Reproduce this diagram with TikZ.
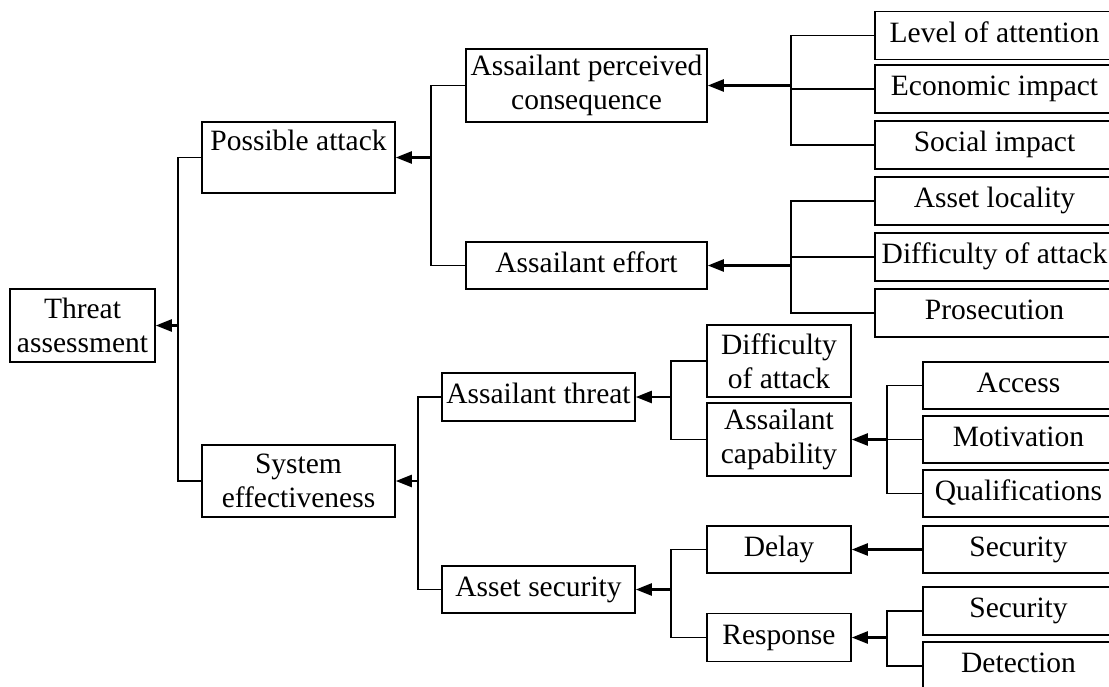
\documentclass[tikz,border=0pt]{standalone}
\usepackage{fontspec}
\setmainfont{Liberation Serif}
\usetikzlibrary{arrows.meta}
\tikzset{
  box/.style={draw, line width=1.6pt, inner sep=0pt, font=\fontsize{29.5}{34}\selectfont, align=center, minimum height=48pt},
  one/.style={text height=20pt, text depth=7pt},
  branch/.style={line width=1.5pt},
  arr/.style={line width=2.4pt, -{Triangle[length=16pt,width=12pt]}},
}
\begin{document}
\begin{tikzpicture}[x=1pt,y=-1pt]
\useasboundingbox (0,0) rectangle (1109,686);
\clip (0,0) rectangle (1109,686);
% level 0-2
\node[box, minimum width=145pt, minimum height=73pt] (TA) at (82.5,325.5) {Threat\\assessment};
\node[box, minimum width=193pt, minimum height=71pt] (PA) at (298.5,157.5) {Possible attack\\~};
\node[box, minimum width=193pt, minimum height=72pt] (SE) at (298.5,481) {System\\effectiveness};
\node[box, minimum width=241pt, minimum height=73pt] (APC) at (586.5,85.5) {Assailant perceived\\consequence};
\node[box, one, minimum width=241pt, minimum height=47pt] (AE) at (586.5,265.5) {Assailant effort};
\node[box, one, minimum width=193pt] (AT) at (538.5,397) {Assailant threat};
\node[box, one, minimum width=193pt, minimum height=47pt] (AS) at (538.5,589.5) {Asset security};
\node[box, minimum width=144pt, minimum height=72pt] (DA2) at (779,361) {Difficulty\\of attack};
\node[box, minimum width=144pt, minimum height=73pt] (AC) at (779,439.5) {Assailant\\capability};
\node[box, one, minimum width=144pt, minimum height=47pt] (DL) at (779,549.5) {Delay};
\node[box, one, minimum width=144pt] (RS) at (779,637.5) {Response};
% right column 1
\node[box, one, minimum width=239pt] (LA) at (994.5,35.5) {Level of attention};
\node[box, one, minimum width=239pt] (EI) at (994.5,89) {Economic impact};
\node[box, one, minimum width=239pt] (SI) at (994.5,145) {Social impact};
\node[box, one, minimum width=239pt] (AL) at (994.5,201) {Asset locality};
\node[box, one, minimum width=239pt] (DA) at (994.5,257) {Difficulty of attack};
\node[box, one, minimum width=239pt] (PR) at (994.5,313) {Prosecution};
% right column 2
\node[box, one, minimum width=191pt, minimum height=47pt] (AX) at (1018.5,385.5) {Access};
\node[box, one, minimum width=191pt, minimum height=47pt] (MO) at (1018.5,439.5) {Motivation};
\node[box, one, minimum width=191pt, minimum height=47pt] (QU) at (1018.5,493.5) {Qualifications};
\node[box, one, minimum width=191pt, minimum height=47pt] (SC1) at (1018.5,549.5) {Security};
\node[box, one, minimum width=191pt] (SC2) at (1018.5,611) {Security};
\node[box, one, minimum width=191pt] (DT) at (1018.5,666) {Detection};
% junctions
\coordinate (j0) at (178,325.5);
\coordinate (j1) at (431,157.5);
\coordinate (j2) at (418,481);
\coordinate (j3) at (791,85.5);
\coordinate (j4) at (791,265.5);
\coordinate (j5) at (671,397);
\coordinate (j6) at (887,439.5);
\coordinate (j7) at (671,589.5);
\coordinate (j8) at (887,637.5);
% connectors
\draw[branch] (PA.west) -| (j0) |- (SE.west);
\draw[arr] (j0) -- (TA.east);
\draw[branch] (APC.west) -| (j1) |- (AE.west);
\draw[arr] (j1) -- (PA.east);
\draw[branch] (AT.west) -| (j2) |- (AS.west);
\draw[arr] (j2) -- (SE.east);
\draw[branch] (LA.west) -| (j3) |- (SI.west);
\draw[branch] (j3 |- EI.west) -- (EI.west);
\draw[arr] (j3) -- (APC.east);
\draw[branch] (AL.west) -| (j4) |- (PR.west);
\draw[branch] (j4 |- DA.west) -- (DA.west);
\draw[arr] (j4) -- (AE.east);
\draw[branch] (DA2.west) -| (j5) |- (AC.west);
\draw[arr] (j5) -- (AT.east);
\draw[branch] (AX.west) -| (j6) |- (QU.west);
\draw[branch] (j6 |- MO.west) -- (MO.west);
\draw[arr] (j6) -- (AC.east);
\draw[arr] (SC1.west) -- (DL.east);
\draw[branch] (DL.west) -| (j7) |- (RS.west);
\draw[arr] (j7) -- (AS.east);
\draw[branch] (SC2.west) -| (j8) |- (DT.west);
\draw[arr] (j8) -- (RS.east);
\end{tikzpicture}
\end{document}
